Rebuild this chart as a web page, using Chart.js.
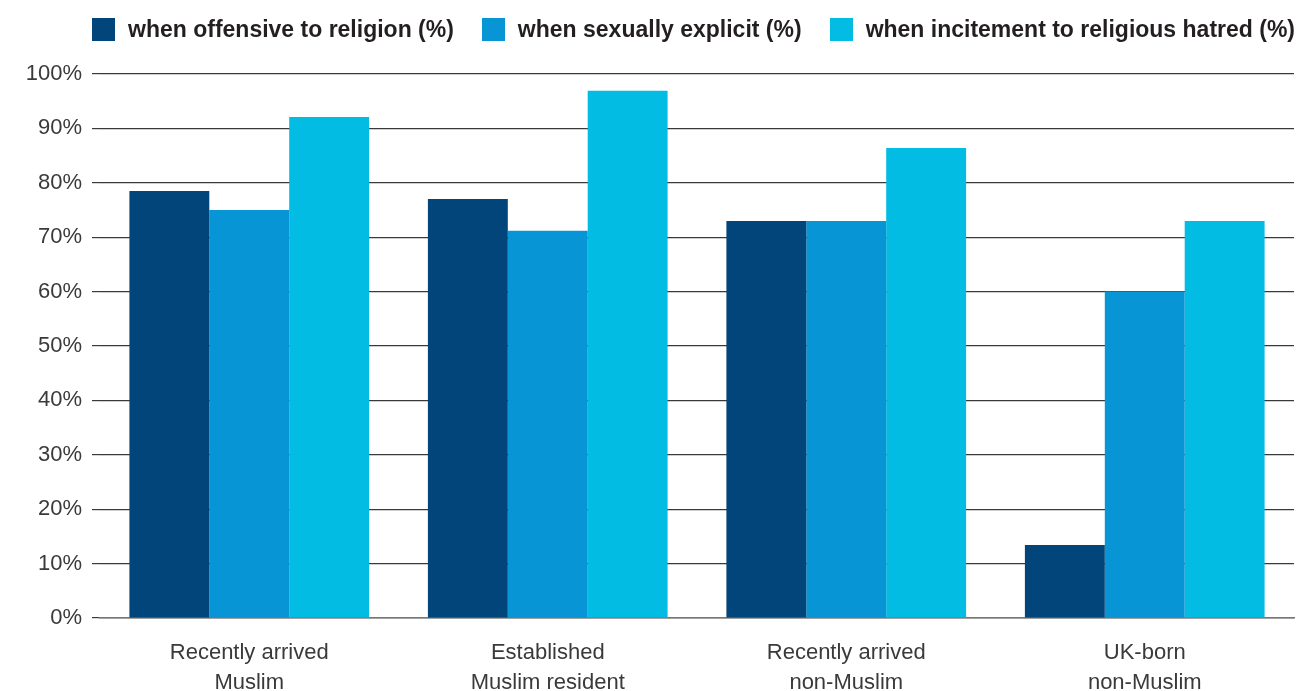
<!DOCTYPE html>
<html>
<head>
<meta charset="utf-8">
<script src="https://cdn.jsdelivr.net/npm/chart.js@4/dist/chart.umd.min.js"></script>
<style>
  html, body { margin: 0; padding: 0; background: #fff; }
  #wrap { position: relative; width: 1301px; height: 691px; }
  #legend { position: absolute; left: 92px; top: 18px; display: flex; white-space: nowrap;
            font: bold 23px 'Liberation Sans', Arial, sans-serif; color: #231f20; }
  #legend .item { display: flex; align-items: center; margin-right: 28px; height: 23px; }
  #legend .box { width: 23px; height: 23px; margin-right: 13px; }
</style>
</head>
<body>
<div id="wrap">
  <canvas id="grafik"></canvas>
  <div id="legend"></div>
</div>
<script>
var groups = [
    ["Recently arrived", "Muslim"],
    ["Established", "Muslim resident"],
    ["Recently arrived", "non-Muslim"],
    ["UK-born", "non-Muslim"]
];
var seriesNames = [
    "when offensive to religion (%)",
    "when sexually explicit (%)",
    "when incitement to religious hatred (%)"
];
var offensiveValues = [78.5, 77, 73, 13.4];
var explicitValues = [75, 71.2, 73, 60];
var hatredValues = [92.1, 96.9, 86.4, 73];
var yTicks = [0, 10, 20, 30, 40, 50, 60, 70, 80, 90, 100];
var colors = ["#02457a", "#0795d6", "#03bce4"];

// legend as html so the spacing can match
var legendDiv = document.getElementById("legend");
seriesNames.forEach(function (name, i) {
    var item = document.createElement("div");
    item.className = "item";
    var box = document.createElement("span");
    box.className = "box";
    box.style.background = colors[i];
    item.appendChild(box);
    item.appendChild(document.createTextNode(name));
    legendDiv.appendChild(item);
});

var chart = new Chart("grafik", {
    type: "bar",
    data: {
        labels: groups,
        datasets: [offensiveValues, explicitValues, hatredValues].map(function (vals, i) {
            return {
                label: seriesNames[i],
                data: vals,
                backgroundColor: colors[i],
                borderWidth: 0,
                categoryPercentage: 0.803,
                barPercentage: 1
            };
        })
    },
    options: {
        responsive: true,
        maintainAspectRatio: false,
        animation: false,
        layout: { padding: { left: 0, right: 7, top: 74, bottom: 0 } },
        plugins: {
            tooltip: { enabled: false },
            legend: { display: false }
        },
        scales: {
            x: {
                afterFit: function (scale) { scale.height = 73; },
                grid: { display: false },
                border: { display: true, color: "#777", width: 1.5 },
                ticks: {
                    color: "#3a3a3a",
                    padding: 12,
                    maxRotation: 0,
                    font: { family: "'Liberation Sans', Arial, sans-serif", size: 22, lineHeight: 1.35 }
                }
            },
            y: {
                min: 0,
                max: 100,
                afterBuildTicks: function (scale) {
                    scale.ticks = yTicks.map(function (v) { return { value: v }; });
                },
                afterFit: function (scale) { scale.width = 100; },
                grid: { color: "#3a3a3a", lineWidth: 1.2, tickLength: 8, drawTicks: true },
                border: { display: false },
                ticks: {
                    color: "#3a3a3a",
                    padding: 10,
                    font: { family: "'Liberation Sans', Arial, sans-serif", size: 22 },
                    callback: function (v) { return v + "%"; }
                }
            }
        }
    }
});
</script>
</body>
</html>
